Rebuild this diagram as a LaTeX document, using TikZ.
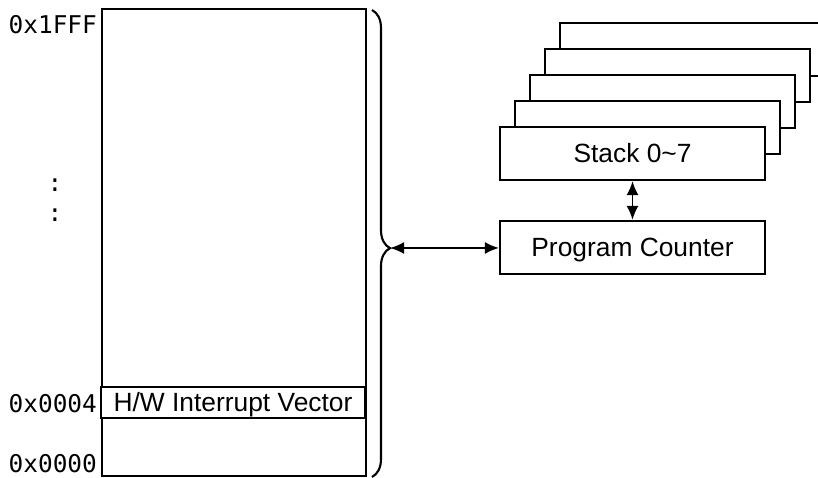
\documentclass[tikz,border=0pt]{standalone}
\usepackage{fontspec}
\setmainfont{Liberation Sans}
\setmonofont{DejaVu Sans Mono}
\usetikzlibrary{decorations.pathreplacing, arrows.meta}

\begin{document}
\begin{tikzpicture}[
    mbox/.style={rectangle, draw, line width=1.2pt, fill=white,
                 minimum width=5.3cm, minimum height=1.06cm, inner sep=0pt,
                 text height=10.7pt, text depth=0pt,
                 font=\fontsize{15}{18}\selectfont},
    addr/.style={anchor=east, inner sep=1pt, font=\ttfamily\fontsize{13.9}{16}\selectfont},
    arr/.style={{Latex[length=2.8mm, width=2.4mm]}-{Latex[length=2.8mm, width=2.4mm]}, line width=1.1pt},
  ]
  \useasboundingbox (0,0) rectangle (16.36,9.56);

  % --- memory map ---
  \node[draw, line width=1.2pt, minimum width=5.28cm, minimum height=9.34cm,
        inner sep=0pt, anchor=south west] (mem) at (2.02,0.02) {};
  \node[mbox, minimum width=5.28cm, minimum height=0.62cm] (vec) at (4.66,1.51) {H/W Interrupt Vector};

  \node[addr] (top)  at (1.98,9.06) {0x1FFF};
  \node[addr] (v4)   at (1.98,1.48) {0x0004};
  \node[addr] (v0)   at (1.98,0.28) {0x0000};
  \node[addr, anchor=center] (dot1) at (1.10,5.86) {:};
  \node[addr, anchor=center] (dot2) at (1.10,5.26) {:};

  % --- brace over the memory ---
  \draw[line width=1.2pt, decorate, decoration={brace, amplitude=0.36cm, aspect=0.51}]
    (7.44,9.36) -- (7.44,0.02);
  \coordinate (tip) at (7.80,4.60);

  % --- stack levels ---
  \foreach \i in {4,3,2,1}
    \node[mbox] (stk\i) at ({12.65+0.3*\i},{6.49+0.52*\i}) {};
  \node[mbox] (stk) at (12.65,6.49) {Stack 0\textasciitilde 7};
  \node[mbox] (pc)  at (12.65,4.61) {Program Counter};

  \draw[arr] (stk.south) -- (pc.north);
  \draw[arr] (tip) -- (tip -| pc.west);

\end{tikzpicture}
\end{document}
